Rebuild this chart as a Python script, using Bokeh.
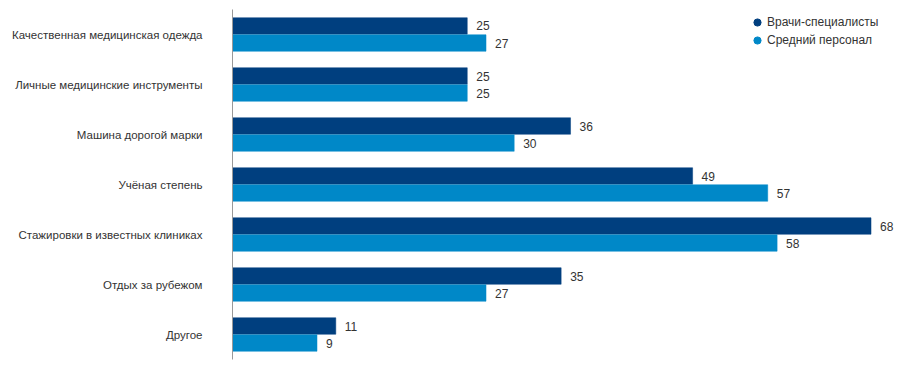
from bokeh.plotting import figure
from bokeh.models import FactorRange, Range1d, ColumnDataSource, Legend, LegendItem
from bokeh.transform import dodge
from bokeh.embed import file_html
from bokeh.resources import INLINE
from bokeh.core.properties import value

categories = [
    "Качественная медицинская одежда",
    "Личные медицинские инструменты",
    "Машина дорогой марки",
    "Учёная степень",
    "Стажировки в известных клиниках",
    "Отдых за рубежом",
    "Другое",
]
doctors = [25, 25, 36, 49, 68, 35, 11]
nurses = [27, 25, 30, 57, 58, 27, 9]
series_names = ["Врачи-специалисты", "Средний персонал"]

DARK = "#003F7F"
LIGHT = "#0088C8"
FONT = "Liberation Sans"

src = ColumnDataSource(dict(
    cat=categories,
    doc=doctors,
    nur=nurses,
    doc_lbl=[str(v) for v in doctors],
    nur_lbl=[str(v) for v in nurses],
))

W, H = 896, 361
LEFT = 232
p = figure(
    width=W, height=H,
    y_range=FactorRange(*list(reversed(categories))),
    x_range=Range1d(0, (W - LEFT) / 9.39),
    output_backend="svg", toolbar_location=None,
    min_border_left=LEFT, min_border_right=0, min_border_top=9, min_border_bottom=2,
    x_axis_location=None,
)
p.outline_line_color = None
p.xgrid.visible = False
p.ygrid.visible = False
p.background_fill_color = None
p.border_fill_color = "white"

p.hbar(y=dodge("cat", 0.17, range=p.y_range), right="doc", left=0, height=0.33,
       source=src, fill_color=DARK, line_color=DARK, line_width=0.5)
p.hbar(y=dodge("cat", -0.17, range=p.y_range), right="nur", left=0, height=0.33,
       source=src, fill_color=LIGHT, line_color=LIGHT, line_width=0.5)

p.text(x="doc", y=dodge("cat", 0.17, range=p.y_range), text="doc_lbl", source=src,
       x_offset=9, text_baseline="middle", text_align="left",
       text_font=value(FONT), text_font_size="12px", text_color="#333333")
p.text(x="nur", y=dodge("cat", -0.17, range=p.y_range), text="nur_lbl", source=src,
       x_offset=9, text_baseline="middle", text_align="left",
       text_font=value(FONT), text_font_size="12px", text_color="#333333")

yax = p.yaxis[0]
yax.axis_line_color = "#999999"
yax.axis_line_width = 1
yax.major_tick_line_color = None
yax.minor_tick_line_color = None
yax.major_label_standoff = 24
yax.major_label_text_font = FONT
yax.major_label_text_font_size = "11.5px"
yax.major_label_text_color = "#333333"

nan = float("nan")
r1 = p.scatter(x=[nan], y=[categories[0]], size=10, marker="circle",
               fill_color=DARK, line_color=DARK)
r2 = p.scatter(x=[nan], y=[categories[0]], size=10, marker="circle",
               fill_color=LIGHT, line_color=LIGHT)
legend = Legend(
    items=[LegendItem(label=series_names[0], renderers=[r1]),
           LegendItem(label=series_names[1], renderers=[r2])],
    location=(515, 310),
    orientation="vertical",
    border_line_color=None, background_fill_alpha=0,
    padding=0, margin=0, spacing=-2,
    glyph_width=20, glyph_height=18, label_height=16, label_standoff=0,
    label_text_font=FONT, label_text_font_size="12px", label_text_color="#333333",
)
p.add_layout(legend)

open("out.html", "w").write(file_html(p, INLINE))
